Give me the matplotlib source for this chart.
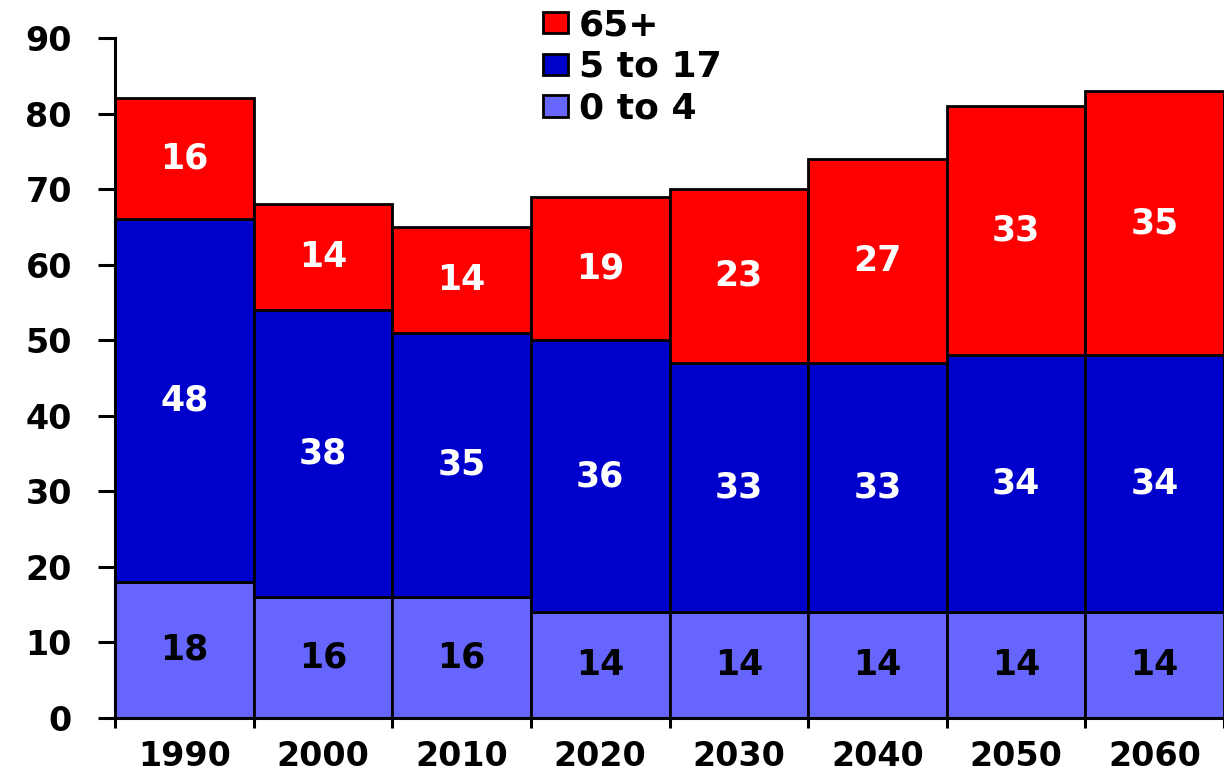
import matplotlib.pyplot as plt
from matplotlib.patches import Patch

years = ["1990", "2000", "2010", "2020", "2030", "2040", "2050", "2060"]
age_0_4 = [18, 16, 16, 14, 14, 14, 14, 14]
age_5_17 = [48, 38, 35, 36, 33, 33, 34, 34]
age_65 = [16, 14, 14, 19, 23, 27, 33, 35]

c_light = "#6666FF"
c_blue = "#0000CC"
c_red = "#FF0000"

plt.rcParams['font.family'] = ['DejaVu Sans']
plt.rcParams['font.weight'] = 'bold'

fig = plt.figure(figsize=(12.24, 7.73), dpi=100)
ax = fig.add_axes([115 / 1224, 55 / 773, 1 - 115 / 1224, 680 / 773])

pos = [i + 0.5 for i in range(len(years))]
bottom2 = [a + b for a, b in zip(age_0_4, age_5_17)]

ax.bar(pos, age_0_4, width=1, color=c_light, edgecolor="black", linewidth=2)
ax.bar(pos, age_5_17, width=1, bottom=age_0_4, color=c_blue, edgecolor="black", linewidth=2)
ax.bar(pos, age_65, width=1, bottom=bottom2, color=c_red, edgecolor="black", linewidth=2)

for i, x in enumerate(pos):
    ax.text(x, age_0_4[i] / 2, str(age_0_4[i]), ha='center', va='center',
            color='black', fontsize=25, fontweight='bold')
    ax.text(x, age_0_4[i] + age_5_17[i] / 2, str(age_5_17[i]), ha='center', va='center',
            color='white', fontsize=25, fontweight='bold')
    ax.text(x, bottom2[i] + age_65[i] / 2, str(age_65[i]), ha='center', va='center',
            color='white', fontsize=25, fontweight='bold')

ax.set_xlim(0, 7.93)
ax.set_ylim(0, 90)
ax.set_yticks(range(0, 91, 10))

# ticks at bar boundaries, labels at bar centres
ax.set_xticks(range(0, 9))
ax.set_xticklabels([])
ax.set_xticks(pos, minor=True)
ax.set_xticklabels(years, minor=True)
ax.tick_params(axis='x', which='major', length=7, width=2.2, direction='out')
ax.tick_params(axis='x', which='minor', length=0, pad=16, labelsize=24)
ax.tick_params(axis='y', length=12, width=2.2, pad=19, labelsize=24)

for s in ['top', 'right']:
    ax.spines[s].set_visible(False)
for s in ['left', 'bottom']:
    ax.spines[s].set_linewidth(2.2)

handles = [Patch(facecolor=c_red, edgecolor='black', linewidth=2),
           Patch(facecolor=c_blue, edgecolor='black', linewidth=2),
           Patch(facecolor=c_light, edgecolor='black', linewidth=2)]
fig.legend(handles, ["65+", "5 to 17", "0 to 4"], loc='upper left',
           bbox_to_anchor=(543 / 1224, 1 - 8 / 773), frameon=False,
           fontsize=26, borderpad=0, borderaxespad=0, handlelength=0.69,
           handleheight=0.53, handletextpad=0.3, labelspacing=0.22)

fig.savefig("out.png", dpi=100)
